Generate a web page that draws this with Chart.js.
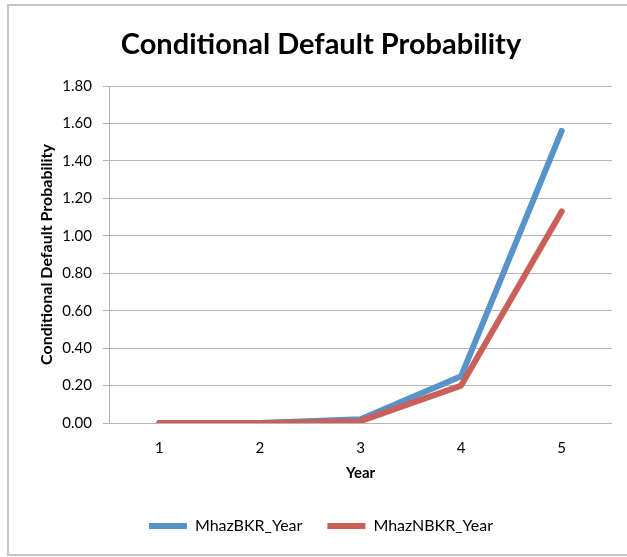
<!DOCTYPE html>
<html lang="en">
<head>
  <meta charset="UTF-8" />
  <title>Conditional Default Probability</title>
  <style>
    body {
      margin: 0;
      background: #fff;
      overflow: hidden;
    }

    #frame {
      position: absolute;
      left: 7px;
      top: 4px;
      width: 700px;
      height: 548px;
      border: 2px solid #c6c6c6;
    }

    #chartCanvas {
      position: absolute;
      left: 0;
      top: 0;
    }
  </style>
</head>
<body>

  <div id="frame"></div>
  <canvas id="chartCanvas" width="627" height="557"></canvas>

  <script src="https://cdn.jsdelivr.net/npm/chart.js"></script>
  <script>
    const years = ['1', '2', '3', '4', '5'];
    const mhazBKR = [0.00, 0.00, 0.02, 0.25, 1.56];
    const mhazNBKR = [0.00, 0.00, 0.01, 0.20, 1.13];

    const FONT = 'Lato, "Open Sans", sans-serif';

    new Chart(document.getElementById('chartCanvas'), {
      type: 'line',
      data: {
        labels: years,
        datasets: [
          {
            label: 'MhazBKR_Year',
            data: mhazBKR,
            borderColor: '#5893ca',
            backgroundColor: '#5893ca',
            borderWidth: 6,
            borderCapStyle: 'round',
            borderJoinStyle: 'round',
            pointRadius: 0,
            tension: 0,
            order: 1
          },
          {
            label: 'MhazNBKR_Year',
            data: mhazNBKR,
            borderColor: '#c9605a',
            backgroundColor: '#c9605a',
            borderWidth: 6,
            borderCapStyle: 'round',
            borderJoinStyle: 'round',
            pointRadius: 0,
            tension: 0,
            order: 0
          }
        ]
      },
      options: {
        responsive: false,
        animation: false,
        layout: {
          padding: { left: 30, right: 15, top: 5, bottom: 13 }
        },
        plugins: {
          tooltip: { enabled: false },
          title: {
            display: true,
            text: 'Conditional Default Probability',
            color: '#000',
            font: { family: FONT, size: 29, weight: 'bold' },
            padding: { top: 22.6, bottom: 23.6 }
          },
          legend: {
            position: 'bottom',
            labels: {
              color: '#000',
              font: { family: FONT, size: 16 },
              usePointStyle: true,
              pointStyle: 'line',
              pointStyleWidth: 38,
              padding: 25,
              sort: (a, b) => a.datasetIndex - b.datasetIndex
            }
          }
        },
        scales: {
          x: {
            offset: true,
            grid: { display: false, drawTicks: false },
            border: { display: false },
            ticks: {
              color: '#000',
              font: { family: FONT, size: 15 },
              padding: 16
            },
            title: {
              display: true,
              text: 'Year',
              color: '#000',
              font: { family: FONT, size: 15, weight: 'bold' },
              padding: { top: 3, bottom: 11 }
            },
            afterFit: (scale) => { scale.height = 70; }
          },
          y: {
            min: 0,
            max: 1.8,
            grid: {
              color: '#b4b4b4',
              lineWidth: 1,
              tickLength: 6
            },
            border: { display: true, color: '#b4b4b4' },
            ticks: {
              stepSize: 0.2,
              color: '#000',
              font: { family: FONT, size: 15 },
              padding: 11,
              callback: (v) => v.toFixed(2)
            },
            title: {
              display: true,
              text: 'Conditional Default Probability',
              color: '#000',
              font: { family: FONT, size: 16, weight: 'bold' },
              padding: { top: 7.4, bottom: 0 }
            },
            afterFit: (scale) => { scale.width = 79; }
          }
        }
      }
    });
  </script>
</body>
</html>
